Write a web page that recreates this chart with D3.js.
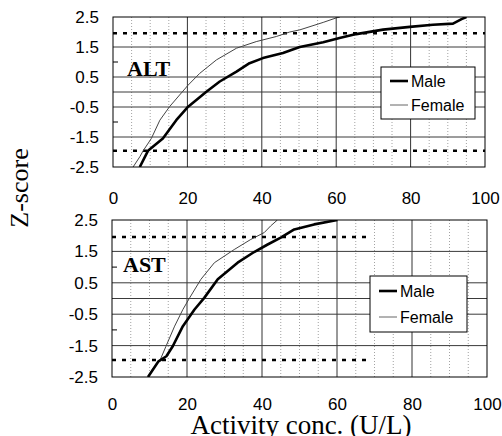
<!DOCTYPE html>
<html>
<head>
<meta charset="utf-8">
<script src="https://cdn.jsdelivr.net/npm/d3@7"></script>
<style>
  body { margin: 0; background: #fff; }
  svg { display: block; }
</style>
</head>
<body>
<div id="chart"></div>
<script>
// tick labels / reference values
const xTicks = [0, 20, 40, 60, 80, 100];
const yTicks = [2.5, 1.5, 0.5, -0.5, -1.5, -2.5];
const gridZ = [1.5, 0.5, 0, -0.5, -1.5];
const minorTickZ = [1, -1];
const limitZ = [1.96, -1.96];
const seriesNames = ["Male", "Female"];

// [activity conc. (U/L), z-score]
const altMale = [
  [7.2, -2.5], [9.4, -1.96], [13.4, -1.55], [17.0, -0.94], [20.2, -0.49],
  [25.1, 0.01], [28.7, 0.35], [33.2, 0.68], [36.7, 0.96], [40.3, 1.13],
  [45.7, 1.3], [50.2, 1.5], [56.5, 1.66], [60.9, 1.8], [65.4, 1.93],
  [72.6, 2.08], [79.8, 2.17], [86.0, 2.24], [91.4, 2.28], [93.7, 2.43],
  [95.0, 2.5],
];
const altFemale = [
  [5.4, -2.5], [7.2, -2.16], [8.1, -1.96], [10.3, -1.55], [12.6, -0.94],
  [15.2, -0.49], [17.9, -0.1], [20.2, 0.23], [23.3, 0.62], [27.8, 1.07],
  [33.2, 1.46], [38.5, 1.68], [43.9, 1.85], [47.5, 2.0], [50.2, 2.07],
  [56.5, 2.32], [60.0, 2.47], [61.0, 2.5],
];
const astMale = [
  [9.6, -2.5], [12.4, -2.0], [14.5, -1.84], [16.2, -1.52], [18.9, -0.88],
  [22.0, -0.35], [24.6, 0.02], [28.2, 0.61], [33.5, 1.14], [37.9, 1.48],
  [41.5, 1.72], [45.0, 1.94], [48.6, 2.2], [53.9, 2.36], [60.1, 2.5],
];
const astFemale = [
  [9.6, -2.5], [10.9, -2.23], [12.9, -1.94], [14.4, -1.52], [16.7, -0.88],
  [18.9, -0.35], [20.7, 0.02], [23.7, 0.61], [27.3, 1.14], [32.6, 1.56],
  [37.0, 1.88], [40.6, 2.1], [42.3, 2.31], [44.1, 2.5],
];

const width = 502;
const height = 436;
const sansFont = "'Liberation Sans', Arial, sans-serif";
const serifFont = "'Liberation Serif', 'Times New Roman', serif";

const panels = [
  {
    name: "ALT", male: altMale, female: altFemale, limitEnd: 100,
    left: 113, right: 485, top: 17, bottom: 167, xPad: 25,
    labelX: 127, labelY: 76,
    legend: { x: 381, y: 67, w: 94, h: 52 },
  },
  {
    name: "AST", male: astMale, female: astFemale, limitEnd: 68.5,
    left: 112, right: 487, top: 220, bottom: 377, xPad: 21,
    labelX: 123, labelY: 272,
    legend: { x: 370, y: 276, w: 97, h: 56 },
  },
];

const svg = d3
  .select("#chart")
  .append("svg")
  .attr("width", width)
  .attr("height", height)
  .style("background", "#fff");

const drawPanel = (p, i) => {
  const xScale = d3.scaleLinear().domain([0, 100]).range([p.left, p.right]);
  const yScale = d3.scaleLinear().domain([-2.5, 2.5]).range([p.bottom, p.top]);
  const g = svg.append("g");

  /* dotted minor verticals every 5 */
  const minorX = d3.range(5, 100, 5).filter((v) => v % 20 !== 0);
  g.selectAll(".minor")
    .data(minorX)
    .join("line")
    .attr("x1", (d) => xScale(d))
    .attr("x2", (d) => xScale(d))
    .attr("y1", p.top)
    .attr("y2", p.bottom)
    .attr("stroke", "#8a8a8a")
    .attr("stroke-width", 0.8)
    .attr("stroke-dasharray", "1,2");

  /* solid grid */
  g.selectAll(".vgrid")
    .data(xTicks.slice(1, -1))
    .join("line")
    .attr("x1", (d) => xScale(d))
    .attr("x2", (d) => xScale(d))
    .attr("y1", p.top)
    .attr("y2", p.bottom)
    .attr("stroke", "#333")
    .attr("stroke-width", 1);

  g.selectAll(".hgrid")
    .data(gridZ)
    .join("line")
    .attr("x1", p.left)
    .attr("x2", p.right)
    .attr("y1", (d) => yScale(d))
    .attr("y2", (d) => yScale(d))
    .attr("stroke", "#3a3a3a")
    .attr("stroke-width", 1);

  g.selectAll(".mtick")
    .data(minorTickZ)
    .join("line")
    .attr("x1", p.left)
    .attr("x2", p.left + 5)
    .attr("y1", (d) => yScale(d))
    .attr("y2", (d) => yScale(d))
    .attr("stroke", "#000");

  /* +-1.96 limits */
  g.selectAll(".limit")
    .data(limitZ)
    .join("line")
    .attr("x1", xScale(0))
    .attr("x2", xScale(p.limitEnd))
    .attr("y1", (d) => yScale(d))
    .attr("y2", (d) => yScale(d))
    .attr("stroke", "#000")
    .attr("stroke-width", 2.6)
    .attr("stroke-dasharray", "4,6");

  /* curves */
  svg.append("clipPath")
    .attr("id", "clip" + i)
    .append("rect")
    .attr("x", p.left)
    .attr("y", p.top)
    .attr("width", p.right - p.left)
    .attr("height", p.bottom - p.top);

  const line = d3
    .line()
    .x((d) => xScale(d[0]))
    .y((d) => yScale(d[1]));

  const curves = g.append("g").attr("clip-path", `url(#clip${i})`);
  curves.append("path")
    .attr("d", line(p.female))
    .attr("fill", "none")
    .attr("stroke", "#444")
    .attr("stroke-width", 1);
  curves.append("path")
    .attr("d", line(p.male))
    .attr("fill", "none")
    .attr("stroke", "#000")
    .attr("stroke-width", 2.6)
    .attr("stroke-linejoin", "round");

  /* frame */
  g.append("rect")
    .attr("x", p.left)
    .attr("y", p.top)
    .attr("width", p.right - p.left)
    .attr("height", p.bottom - p.top)
    .attr("fill", "none")
    .attr("stroke", "#000")
    .attr("stroke-width", 1);

  /* axes */
  const yAxis = d3
    .axisLeft(yScale)
    .tickValues(yTicks)
    .tickSize(0)
    .tickPadding(14)
    .tickFormat((d) => d.toFixed(1));
  const xAxis = d3
    .axisBottom(xScale)
    .tickValues(xTicks)
    .tickSize(0)
    .tickPadding(p.xPad);

  [
    g.append("g").attr("transform", `translate(${p.left},0)`).call(yAxis),
    g.append("g").attr("transform", `translate(0,${p.bottom})`).call(xAxis),
  ].forEach((a) => {
    a.select(".domain").remove();
    a.selectAll("text")
      .attr("font-family", sansFont)
      .attr("font-size", 17)
      .attr("fill", "#000");
  });

  /* panel label */
  g.append("text")
    .attr("x", p.labelX)
    .attr("y", p.labelY)
    .attr("font-family", serifFont)
    .attr("font-weight", "bold")
    .attr("font-size", 22)
    .text(p.name);

  /* legend */
  const lg = p.legend;
  const leg = g.append("g");
  leg.append("rect")
    .attr("x", lg.x)
    .attr("y", lg.y)
    .attr("width", lg.w)
    .attr("height", lg.h)
    .attr("fill", "#fff")
    .attr("stroke", "#000")
    .attr("stroke-width", 1);
  const rowH = lg.h / 2;
  seriesNames.forEach((name, k) => {
    const cy = lg.y + rowH * (k + 0.5) + (k === 0 ? 1 : -1);
    leg.append("line")
      .attr("x1", lg.x + 9)
      .attr("x2", lg.x + 27)
      .attr("y1", cy)
      .attr("y2", cy)
      .attr("stroke", k === 0 ? "#000" : "#666")
      .attr("stroke-width", k === 0 ? 2.6 : 1);
    leg.append("text")
      .attr("x", lg.x + 30)
      .attr("y", cy)
      .attr("dy", "0.36em")
      .attr("font-family", sansFont)
      .attr("font-size", 16)
      .text(name);
  });
};

panels.forEach(drawPanel);

/* axis titles */
svg.append("text")
  .attr("transform", "translate(28,188) rotate(-90)")
  .attr("text-anchor", "middle")
  .attr("font-family", serifFont)
  .attr("font-size", 26)
  .text("Z-score");

svg.append("text")
  .attr("x", 301)
  .attr("y", 434)
  .attr("text-anchor", "middle")
  .attr("font-family", serifFont)
  .attr("font-size", 27)
  .text("Activity conc. (U/L)");
</script>
</body>
</html>
